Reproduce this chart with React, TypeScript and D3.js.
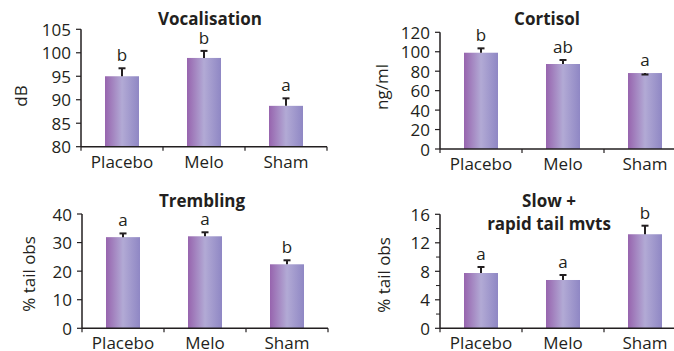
import React from "react";
import * as d3 from "d3";

const categories = ["Placebo", "Melo", "Sham"];

const vocalMeans = [95.0, 98.9, 88.7];
const vocalErr = [1.7, 1.5, 1.6];
const vocalLetters = ["b", "b", "a"];
const vocalTicks = [80, 85, 90, 95, 100, 105];

const cortisolMeans = [99.0, 87.4, 78.1];
const cortisolErr = [4.5, 4.1, -1.5];
const cortisolLetters = ["b", "ab", "a"];
const cortisolTicks = [0, 20, 40, 60, 80, 100, 120];

const trembleMeans = [31.9, 32.2, 22.4];
const trembleErr = [1.3, 1.4, 1.4];
const trembleLetters = ["a", "a", "b"];
const trembleTicks = [0, 10, 20, 30, 40];

const tailMeans = [7.76, 6.78, 13.2];
const tailErr = [0.84, 0.7, 1.2];
const tailLetters = ["a", "a", "b"];
const tailTicks = [0, 4, 8, 12, 16];
const tailMinor = [2, 6, 10, 14];

const ink = "#231f20";
const font = "'Open Sans', 'Noto Sans', sans-serif";

type Panel = {
  title: string[];
  yLabel: string;
  means: number[];
  errs: number[];
  letters: string[];
  ticks: number[];
  minor: number[];
  x0: number;
  yTop: number;
  yBot: number;
  titleX: number;
  titleY: number;
  labelX: number;
  labelY: number;
};

const panels: Panel[] = [
  {
    title: ["Vocalisation"], yLabel: "dB", means: vocalMeans, errs: vocalErr,
    letters: vocalLetters, ticks: vocalTicks, minor: [],
    x0: 81, yTop: 29.3, yBot: 146.7, titleX: 210, titleY: 25, labelX: 20, labelY: 96,
  },
  {
    title: ["Cortisol"], yLabel: "ng/ml", means: cortisolMeans, errs: cortisolErr,
    letters: cortisolLetters, ticks: cortisolTicks, minor: [],
    x0: 440, yTop: 32.3, yBot: 149, titleX: 547, titleY: 25, labelX: 381, labelY: 87,
  },
  {
    title: ["Trembling"], yLabel: "% tail obs", means: trembleMeans, errs: trembleErr,
    letters: trembleLetters, ticks: trembleTicks, minor: [],
    x0: 82, yTop: 214, yBot: 328.3, titleX: 202, titleY: 207, labelX: 28, labelY: 274,
  },
  {
    title: ["Slow +", "rapid tail mvts"], yLabel: "% tail obs", means: tailMeans, errs: tailErr,
    letters: tailLetters, ticks: tailTicks, minor: tailMinor,
    x0: 440, yTop: 214.3, yBot: 328.3, titleX: 549, titleY: 207, labelX: 383, labelY: 275,
  },
];

const step = 82;
const barW = 34;

const BarPanel = ({ p }: { p: Panel }) => {
  const x = d3.scaleBand<string>().domain(categories).range([p.x0, p.x0 + step * 3]).padding(0);
  const y = d3.scaleLinear()
    .domain([p.ticks[0], p.ticks[p.ticks.length - 1]])
    .range([p.yBot, p.yTop]);
  const bounds = [p.x0, ...categories.map(c => (x(c) as number) + x.bandwidth())];

  return (
    <g fontFamily={font} fill={ink}>
      {p.title.map((t, i) => (
        <text key={t} x={p.titleX} y={p.titleY + i * 23} textAnchor="middle" fontWeight="bold" fontSize={17}>
          {t}
        </text>
      ))}
      <text
        transform={`translate(${p.labelX},${p.labelY}) rotate(-90)`}
        textAnchor="middle"
        dominantBaseline="central"
        fontSize={17}
      >
        {p.yLabel}
      </text>

      {categories.map((c, i) => {
        const cx = (x(c) as number) + x.bandwidth() / 2;
        const top = y(p.means[i]);
        const eTop = y(p.means[i] + p.errs[i]);
        return (
          <g key={c}>
            <rect x={cx - barW / 2} y={top} width={barW} height={p.yBot - top} fill="url(#barGrad)" />
            <line x1={cx} x2={cx} y1={top} y2={eTop} stroke={ink} strokeWidth={2} />
            <line x1={cx - 3.5} x2={cx + 3.5} y1={eTop} y2={eTop} stroke={ink} strokeWidth={2} />
            <text x={cx} y={Math.min(top, eTop) - 7} textAnchor="middle" fontSize={17}>
              {p.letters[i]}
            </text>
            <text x={cx} y={p.yBot + 21} textAnchor="middle" fontSize={17}>
              {c}
            </text>
          </g>
        );
      })}

      {p.ticks.map(t => (
        <g key={t}>
          <line x1={p.x0 - 5} x2={p.x0} y1={y(t)} y2={y(t)} stroke={ink} strokeWidth={1.2} />
          <text x={p.x0 - 10} y={y(t)} textAnchor="end" dominantBaseline="central" fontSize={17}>
            {t}
          </text>
        </g>
      ))}
      {p.minor.map(t => (
        <line key={t} x1={p.x0 - 4} x2={p.x0} y1={y(t)} y2={y(t)} stroke={ink} strokeWidth={1} />
      ))}
      {bounds.map((b, i) => (
        <line key={i} x1={b} x2={b} y1={p.yBot} y2={p.yBot + 4} stroke={ink} strokeWidth={1.2} />
      ))}
      <line x1={p.x0} x2={p.x0} y1={p.yTop} y2={p.yBot} stroke={ink} strokeWidth={1.5} />
      <line x1={p.x0} x2={p.x0 + step * 3} y1={p.yBot} y2={p.yBot} stroke={ink} strokeWidth={1.5} />
    </g>
  );
};

export default function App() {
  return (
    <svg
      width={674}
      height={351}
      style={{ position: "absolute", left: 0, top: 0, background: "#fff" }}
    >
      <defs>
        <linearGradient id="barGrad" x1="0" x2="1" y1="0" y2="0">
          <stop offset="0%" stopColor="#9764ae" />
          <stop offset="50%" stopColor="#b2aad5" />
          <stop offset="100%" stopColor="#8f87c4" />
        </linearGradient>
      </defs>
      {panels.map((p, i) => (
        <BarPanel key={i} p={p} />
      ))}
    </svg>
  );
}
